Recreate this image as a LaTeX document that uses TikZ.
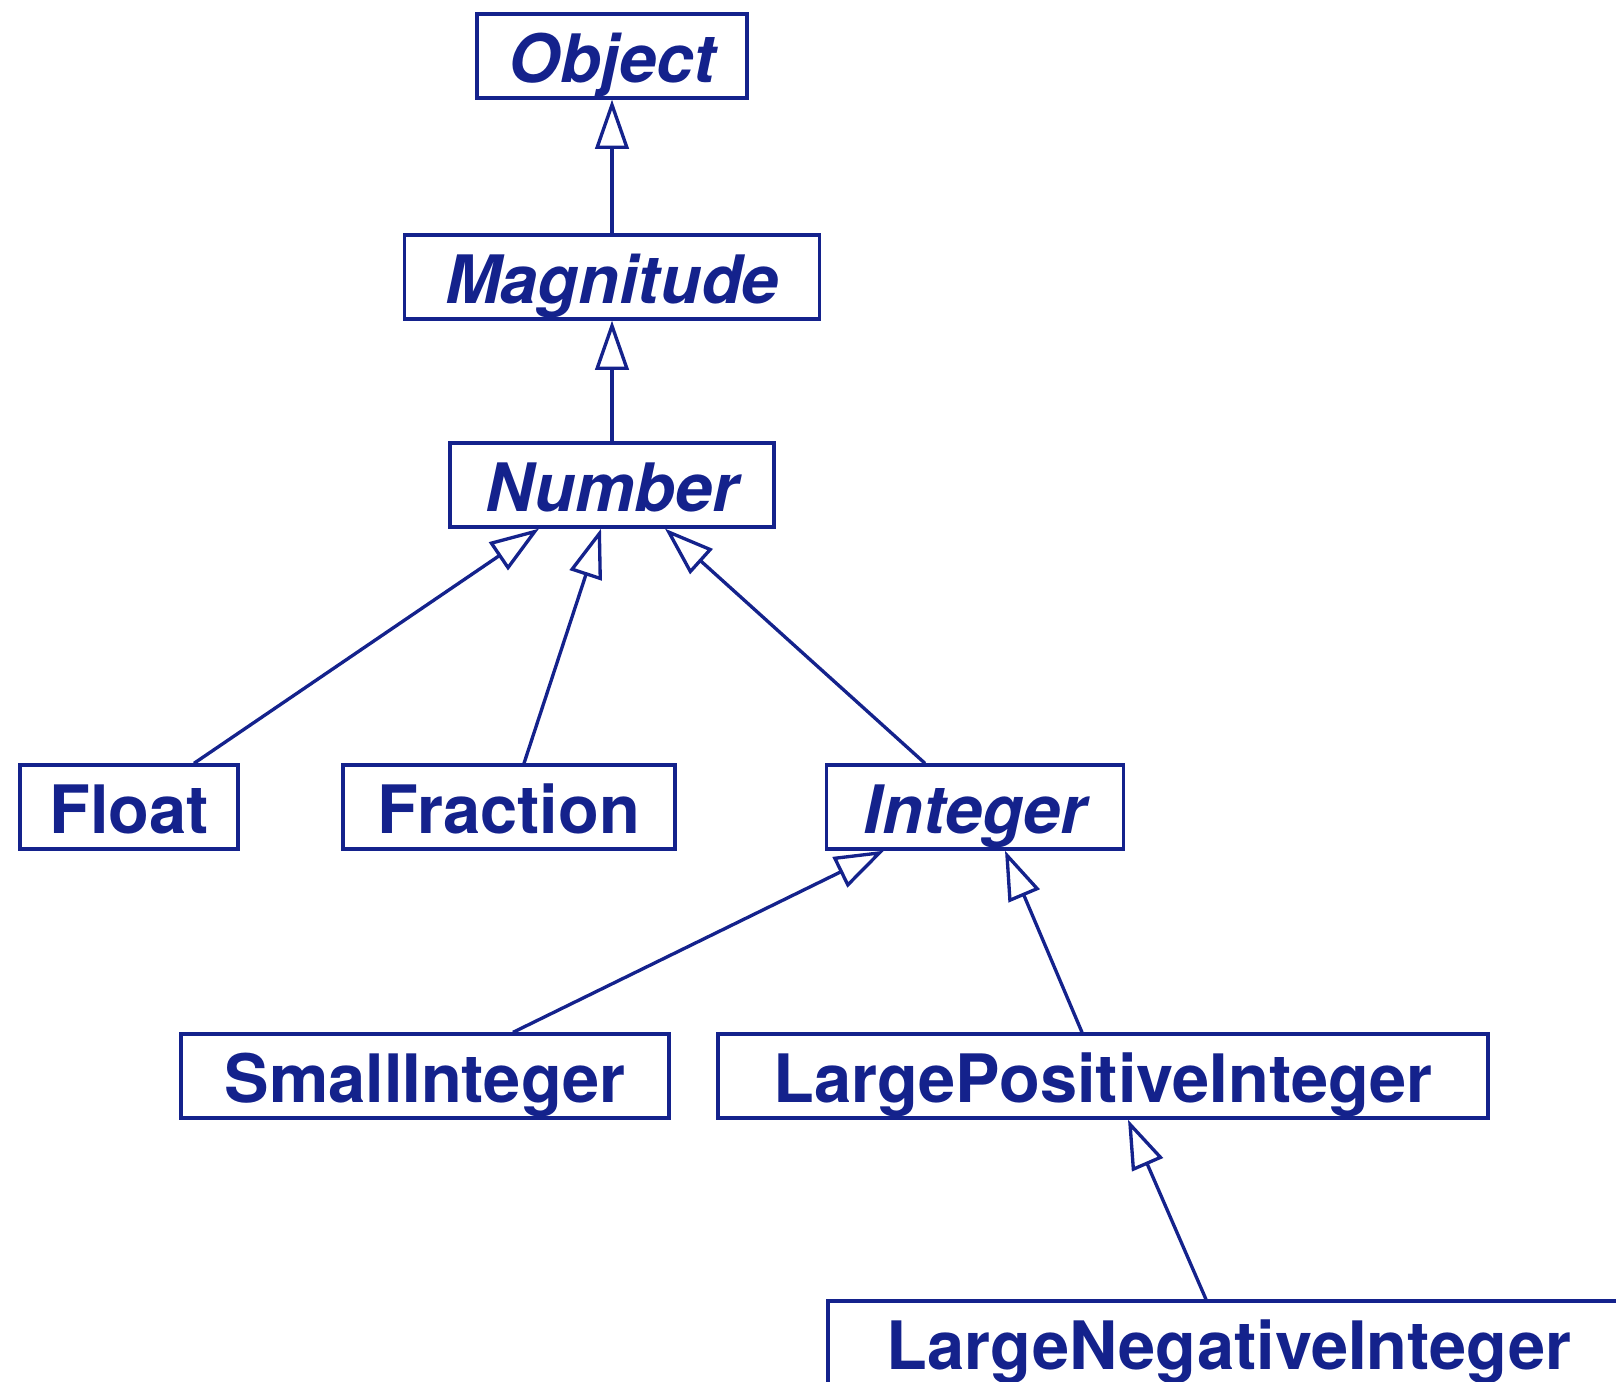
\documentclass[tikz,border=0pt]{standalone}
\usepackage{fontspec}
\setmainfont{TeX Gyre Heros}
\usepackage{xcolor}
\usepackage{tikz}
\usetikzlibrary{arrows.meta,calc}
\definecolor{umlblue}{RGB}{20,34,140}

\begin{document}
\begin{tikzpicture}[
  x=0.02cm, y=-0.02cm,
  font=\fontsize{38}{40}\selectfont\bfseries,
  cls/.style={draw=umlblue, text=umlblue, line width=1.9pt, inner sep=0pt,
              minimum height=1.68cm, text height=1.05cm, text depth=0cm},
  inherit/.style={-{Triangle[open,length=28pt,width=19pt]}, draw=umlblue, line width=1.9pt}
]
\clip (0,0) rectangle (1616,1382);
\node[cls, minimum width=5.4cm] (object) at (612,56) {\itshape Object};
\node[cls, minimum width=8.3cm] (magnitude) at (612,277) {\itshape Magnitude};
\node[cls, minimum width=6.48cm] (number) at (612,485) {\itshape Number};
\node[cls, minimum width=4.36cm] (float) at (129,807) {Float};
\node[cls, minimum width=6.64cm] (fraction) at (509,807) {Fraction};
\node[cls, minimum width=5.94cm] (integer) at (975,807) {\itshape Integer};
\node[cls, minimum width=9.76cm] (small) at (425,1076) {SmallInteger};
\node[cls, minimum width=15.4cm] (largepos) at (1103,1076) {LargePositiveInteger};
\node[cls, minimum width=16.04cm] (largeneg) at (1229,1343) {LargeNegativeInteger};
\draw[inherit] (magnitude) -- (object);
\draw[inherit] (number) -- (magnitude);
\draw[inherit] ($(float.north)+(65,0)$) -- ($(number.south)+(-73,0)$);
\draw[inherit] ($(fraction.north)+(15,0)$) -- ($(number.south)+(-11,0)$);
\draw[inherit] ($(integer.north)+(-50,0)$) -- ($(number.south)+(53,0)$);
\draw[inherit] ($(small.north)+(88,0)$) -- ($(integer.south)+(-91,0)$);
\draw[inherit] ($(largepos.north)+(-21,0)$) -- ($(integer.south)+(30,0)$);
\draw[inherit] ($(largeneg.north)+(-23,0)$) -- ($(largepos.south)+(25,0)$);
\end{tikzpicture}
\end{document}
